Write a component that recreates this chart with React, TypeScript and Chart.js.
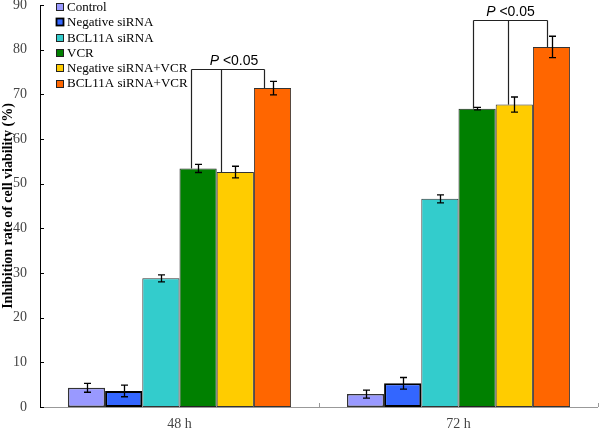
import React, { useEffect, useRef } from "react";
import { Chart, registerables } from "chart.js";
Chart.register(...registerables);

// ---- data ----
const categories = ["48 h", "72 h"];
const seriesNames = [
  "Control",
  "Negative siRNA",
  "BCL11A siRNA",
  "VCR",
  "Negative siRNA+VCR",
  "BCL11A siRNA+VCR",
];
const control = [4.3, 2.9];
const negativeSiRNA = [3.6, 5.3];
const bcl11aSiRNA = [28.8, 46.6];
const vcr = [53.4, 66.8];
const negativeSiRNAVCR = [52.6, 67.7];
const bcl11aSiRNAVCR = [71.4, 80.6];

const controlErr = [1.0, 0.9];
const negativeSiRNAErr = [1.3, 1.3];
const bcl11aSiRNAErr = [0.8, 0.9];
const vcrErr = [0.9, 0.3];
const negativeSiRNAVCRErr = [1.3, 1.7];
const bcl11aSiRNAVCRErr = [1.5, 2.4];

const yMin = 0;
const yMax = 90;
const yStep = 10;

// significance brackets: height (value) per category, compared series indices
const bracketHeights = [75.7, 86.6];
const bracketSeries = [3, 4, 5];
const bracketP = "P";
const bracketText = " <0.05";

// ---- styles ----
const fills = ["#9999FF", "#3366FF", "#33CCCC", "#008000", "#FFCC00", "#FF6600"];
const borders = ["#333333", "#000000", "#333333", "#222222", "#333333", "#333333"];
const borderWidths = [1.5, 2, 1, 1, 1, 1];
const bracketOffsets = [
  [-0.2, -0.38, -0.24],
  [-0.12, -0.16, -0.12],
];
const labelShift = [6, 0];

const values = [control, negativeSiRNA, bcl11aSiRNA, vcr, negativeSiRNAVCR, bcl11aSiRNAVCR];
const errors = [controlErr, negativeSiRNAErr, bcl11aSiRNAErr, vcrErr, negativeSiRNAVCRErr, bcl11aSiRNAVCRErr];

const overlayPlugin = {
  id: "overlay",
  afterDatasetsDraw(chart: any) {
    const ctx = chart.ctx;
    const x = chart.scales.x;
    const y = chart.scales.y;
    const area = chart.chartArea;
    ctx.save();
    // axes
    ctx.strokeStyle = "#999999";
    ctx.lineWidth = 1;
    ctx.beginPath();
    ctx.moveTo(area.left, area.bottom + 0.5);
    ctx.lineTo(area.right, area.bottom + 0.5);
    ctx.stroke();
    // category dividers (inner ticks)
    for (let i = 1; i <= categories.length; i++) {
      const px = Math.round(x.left + (x.width * i) / categories.length) + 0.5;
      ctx.beginPath();
      ctx.moveTo(px, area.bottom);
      ctx.lineTo(px, area.bottom - 4);
      ctx.stroke();
    }
    ctx.strokeStyle = "#000000";
    ctx.beginPath();
    ctx.moveTo(area.left + 0.5, area.top);
    ctx.lineTo(area.left + 0.5, area.bottom + 1);
    ctx.stroke();
    for (let v = yMin; v <= yMax; v += yStep) {
      const py = Math.round(y.getPixelForValue(v)) + 0.5;
      ctx.beginPath();
      ctx.moveTo(area.left, py);
      ctx.lineTo(area.left + 4, py);
      ctx.stroke();
    }

    // error bars
    ctx.strokeStyle = "#000000";
    ctx.lineWidth = 1.3;
    values.forEach((vals, ds) => {
      const meta = chart.getDatasetMeta(ds);
      vals.forEach((v, i) => {
        const bar = meta.data[i];
        const e = errors[ds][i];
        const top = y.getPixelForValue(v + e);
        const bot = y.getPixelForValue(v - e);
        const cx = Math.round(bar.x) + 0.5;
        ctx.beginPath();
        ctx.moveTo(cx, top);
        ctx.lineTo(cx, bot);
        ctx.moveTo(cx - 3.5, top);
        ctx.lineTo(cx + 3.5, top);
        ctx.moveTo(cx - 3.5, bot);
        ctx.lineTo(cx + 3.5, bot);
        ctx.stroke();
      });
    });

    // significance brackets
    ctx.strokeStyle = "#222222";
    ctx.lineWidth = 1.2;
    bracketHeights.forEach((h, g) => {
      const hy = Math.round(y.getPixelForValue(h)) + 0.5;
      const xs: number[] = [];
      bracketSeries.forEach((ds, k) => {
        const bar = chart.getDatasetMeta(ds).data[g];
        const px = Math.round(bar.x + bracketOffsets[g][k] * bar.width) + 0.5;
        xs.push(px);
        ctx.beginPath();
        ctx.moveTo(px, hy);
        ctx.lineTo(px, bar.y);
        ctx.stroke();
      });
      ctx.beginPath();
      ctx.moveTo(xs[0], hy);
      ctx.lineTo(xs[xs.length - 1], hy);
      ctx.stroke();
      // label
      const cx = (xs[0] + xs[xs.length - 1]) / 2 + labelShift[g];
      ctx.fillStyle = "#000000";
      ctx.textBaseline = "alphabetic";
      ctx.font = "italic 14px 'Liberation Sans', Arial, sans-serif";
      const wP = ctx.measureText(bracketP).width;
      ctx.font = "14px 'Liberation Sans', Arial, sans-serif";
      const wT = ctx.measureText(bracketText).width;
      const sx = cx - (wP + wT) / 2;
      ctx.font = "italic 14px 'Liberation Sans', Arial, sans-serif";
      ctx.textAlign = "left";
      ctx.fillText(bracketP, sx, hy - 5);
      ctx.font = "14px 'Liberation Sans', Arial, sans-serif";
      ctx.fillText(bracketText, sx + wP, hy - 5);
    });

    // legend
    ctx.font = "13px 'Liberation Serif', 'Times New Roman', serif";
    ctx.textBaseline = "middle";
    ctx.textAlign = "left";
    seriesNames.forEach((name, i) => {
      const cy = 7 + i * 15.3;
      ctx.fillStyle = fills[i];
      ctx.fillRect(56.5, Math.round(cy - 4) + 0.5, 7, 7);
      ctx.strokeStyle = i === 1 ? "#000000" : "#222222";
      ctx.lineWidth = i === 1 ? 1.8 : 1;
      ctx.strokeRect(56.5, Math.round(cy - 4) + 0.5, 7, 7);
      ctx.fillStyle = "#000000";
      ctx.fillText(name, 67, cy + 0.5);
    });
    ctx.restore();
  },
};

export default function App() {
  const ref = useRef<HTMLCanvasElement | null>(null);
  useEffect(() => {
    document.body.style.margin = "0";
    if (!ref.current) return;
    const chart = new Chart(ref.current, {
      type: "bar",
      data: {
        labels: categories,
        datasets: seriesNames.map((name, i) => ({
          label: name,
          data: values[i],
          backgroundColor: fills[i],
          borderColor: borders[i],
          borderWidth: borderWidths[i],
          borderSkipped: false,
          categoryPercentage: 0.8,
          barPercentage: 1.0,
        })),
      },
      options: {
        animation: false,
        responsive: true,
        maintainAspectRatio: false,
        layout: { padding: { left: 0, right: 2, top: 5, bottom: 0 } },
        plugins: {
          legend: { display: false },
          tooltip: { enabled: false },
        },
        scales: {
          x: {
            grid: { display: false, drawTicks: false },
            border: { display: false },
            ticks: {
              padding: 9,
              color: "#444444",
              font: { family: "'Liberation Serif', 'Times New Roman', serif", size: 14 },
            },
            afterFit(scale: any) {
              scale.height = 26;
              scale.paddingLeft = 0;
              scale.paddingRight = 0;
            },
          },
          y: {
            min: yMin,
            max: yMax,
            grid: { display: false, drawTicks: false },
            border: { display: false },
            ticks: {
              stepSize: yStep,
              padding: 13,
              color: "#444444",
              font: { family: "'Liberation Serif', 'Times New Roman', serif", size: 14 },
            },
            title: {
              display: true,
              text: "Inhibition rate of cell viability (%)",
              color: "#000000",
              padding: { top: 0, bottom: 0 },
              font: { family: "'Liberation Serif', 'Times New Roman', serif", size: 14, weight: "bold" },
            },
            afterFit(scale: any) {
              scale.width = 40;
              scale.paddingTop = 0;
              scale.paddingBottom = 0;
            },
          },
        },
      },
      plugins: [overlayPlugin],
    });
    return () => chart.destroy();
  }, []);
  return (
    <div style={{ width: 600, height: 433, position: "relative" }}>
      <canvas ref={ref} />
    </div>
  );
}
